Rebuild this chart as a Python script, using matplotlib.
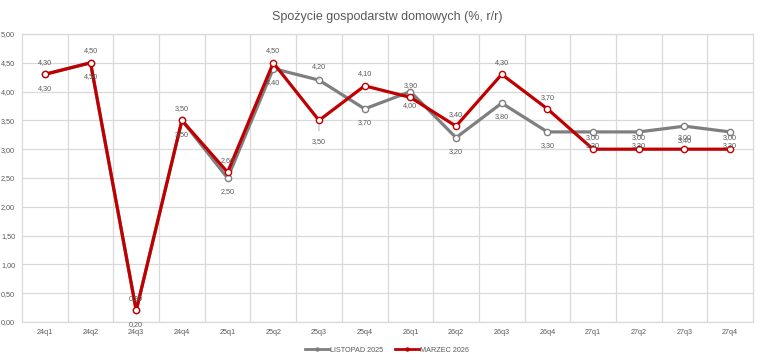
import matplotlib
matplotlib.use("Agg")
import matplotlib.pyplot as plt
from matplotlib.ticker import FuncFormatter, MultipleLocator, FixedLocator
from matplotlib.lines import Line2D

categories = ["24q1", "24q2", "24q3", "24q4", "25q1", "25q2", "25q3", "25q4",
              "26q1", "26q2", "26q3", "26q4", "27q1", "27q2", "27q3", "27q4"]
listopad_2025 = [4.30, 4.50, 0.20, 3.50, 2.50, 4.40, 4.20, 3.70,
                 4.00, 3.20, 3.80, 3.30, 3.30, 3.30, 3.40, 3.30]
marzec_2026 = [4.30, 4.50, 0.20, 3.50, 2.60, 4.50, 3.50, 4.10,
               3.90, 3.40, 4.30, 3.70, 3.00, 3.00, 3.00, 3.00]
series_names = ["LISTOPAD 2025", "MARZEC 2026"]
title = "Spożycie gospodarstw domowych (%, r/r)"

GRAY = "#7f7f7f"
RED = "#c00000"
GRID = "#d9d9d9"
TXT = "#595959"

plt.rcParams['font.family'] = ['Liberation Sans', 'DejaVu Sans']

fig = plt.figure(figsize=(7.67, 3.60), dpi=100)
ax = fig.add_axes([22/767, 1 - 322/360, (753-22)/767, (322-34)/360])

x = list(range(len(categories)))
ax.plot(x, listopad_2025, color=GRAY, lw=2.3, marker='o', ms=4.5,
        mfc='white', mec=GRAY, mew=1.0, zorder=3, solid_joinstyle='round')
ax.plot(x, marzec_2026, color=RED, lw=2.3, marker='o', ms=4.5,
        mfc='white', mec=RED, mew=1.0, zorder=4, solid_joinstyle='round')

def fmt(v):
    return f"{v:.2f}".replace('.', ',')

lab_kw = dict(fontsize=5.2, color=TXT, ha='center', va='center',
              textcoords='offset points', zorder=6)
for i, v in enumerate(listopad_2025):
    if i == 6:
        ax.annotate(fmt(v), (i, v), xytext=(0, 10), **lab_kw,
                    arrowprops=dict(arrowstyle='-', color='#a6a6a6', lw=0.6,
                                    shrinkA=3, shrinkB=3))
    else:
        ax.annotate(fmt(v), (i, v), xytext=(0, -10), **lab_kw)
for i, v in enumerate(marzec_2026):
    if i == 6:
        ax.annotate(fmt(v), (i, v), xytext=(0, -15), **lab_kw,
                    arrowprops=dict(arrowstyle='-', color='#a6a6a6', lw=0.6,
                                    shrinkA=3, shrinkB=3))
    else:
        ax.annotate(fmt(v), (i, v), xytext=(0, 8.5), **lab_kw)

ax.set_xlim(-0.5, len(categories) - 0.5)
ax.set_ylim(0, 5)
ax.yaxis.set_major_locator(MultipleLocator(0.5))
ax.yaxis.set_major_formatter(FuncFormatter(lambda v, p: fmt(v)))
ax.set_xticks(x)
ax.set_xticklabels(categories)
ax.xaxis.set_minor_locator(FixedLocator([i + 0.5 for i in range(len(categories) - 1)]))
ax.grid(axis='y', which='major', color=GRID, lw=0.9)
ax.grid(axis='x', which='minor', color=GRID, lw=0.9)
ax.set_axisbelow(True)
ax.tick_params(axis='both', which='both', length=0, labelsize=5.2, labelcolor=TXT)
ax.tick_params(axis='y', pad=5)
ax.tick_params(axis='x', pad=5)
for s in ax.spines.values():
    s.set_color(GRID)
    s.set_linewidth(0.9)

fig.text(387/767, 1 - 17/360, title, ha='center', va='center',
         fontsize=9, color=TXT)

handles = [Line2D([0], [0], color=GRAY, lw=2, marker='o', ms=2.2, mfc=GRAY, mec=GRAY),
           Line2D([0], [0], color=RED, lw=2, marker='o', ms=2.2, mfc=RED, mec=RED)]
fig.legend(handles, series_names, loc='center', bbox_to_anchor=(387/767, 1 - 350/360),
           ncol=2, frameon=False, fontsize=5.2, labelcolor=TXT, handlelength=3.3,
           handletextpad=0.2, columnspacing=1.6)

fig.savefig("out.png", dpi=100)
